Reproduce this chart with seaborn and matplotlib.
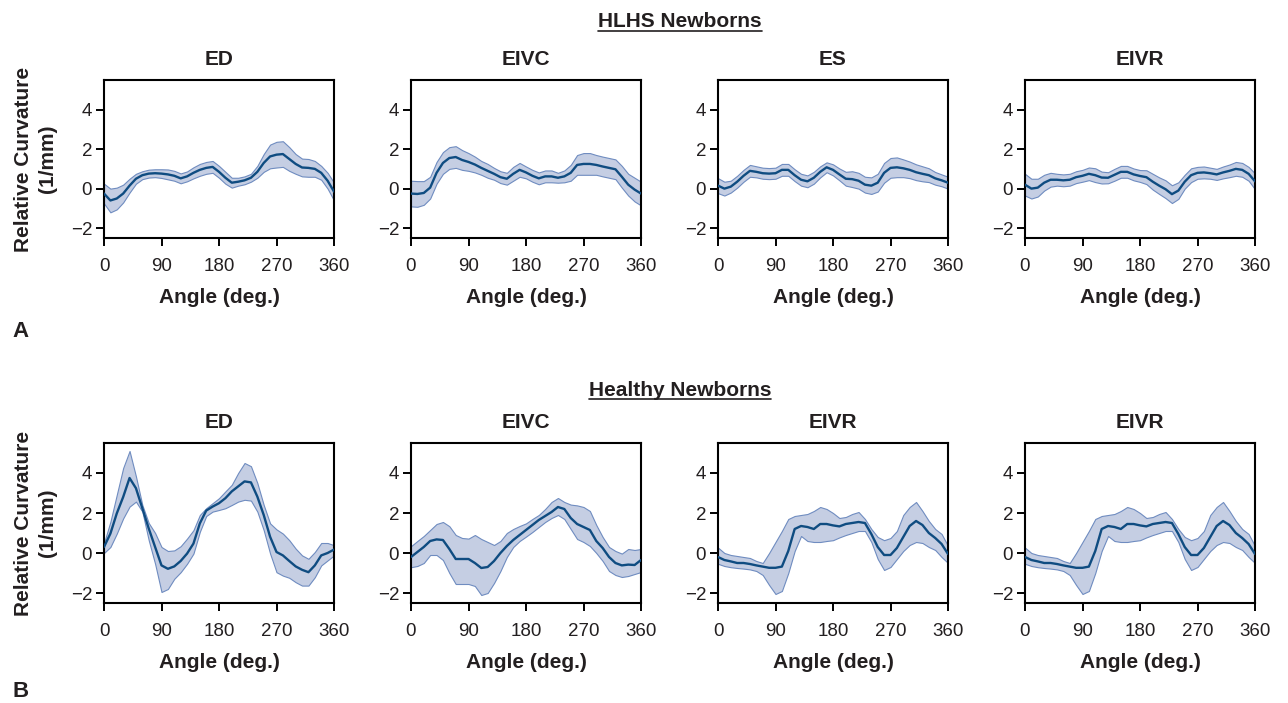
import numpy as np
import pandas as pd
import matplotlib
matplotlib.use("Agg")
import matplotlib.pyplot as plt
from matplotlib.lines import Line2D
import seaborn as sns

# ---------------- data ----------------
ANGLES = list(range(0, 361, 10))

# HLHS newborns: mean curve and half-width of the shaded band
A_ED_mean = [-0.25, -0.6, -0.5, -0.25, 0.15, 0.5, 0.68, 0.76, 0.78, 0.76, 0.72, 0.65, 0.52, 0.62, 0.8, 0.95, 1.05, 1.1, 0.85,
             0.55, 0.3, 0.35, 0.42, 0.55, 0.85, 1.3, 1.63, 1.72, 1.75, 1.5, 1.25, 1.07, 1.05, 1.0, 0.8, 0.4, -0.15]
A_ED_hw = [0.5, 0.6, 0.55, 0.45, 0.35, 0.25, 0.2, 0.2, 0.2, 0.22, 0.25, 0.25, 0.25, 0.25, 0.28, 0.3, 0.3, 0.3, 0.3,
           0.3, 0.25, 0.2, 0.2, 0.2, 0.3, 0.45, 0.6, 0.65, 0.65, 0.6, 0.5, 0.45, 0.45, 0.4, 0.35, 0.4, 0.45]

A_EIVC_mean = [-0.25, -0.27, -0.22, 0.05, 0.8, 1.3, 1.55, 1.6, 1.45, 1.35, 1.22, 1.05, 0.9, 0.75, 0.58, 0.5, 0.75, 0.95, 0.82,
               0.65, 0.52, 0.62, 0.62, 0.55, 0.62, 0.8, 1.2, 1.25, 1.25, 1.2, 1.12, 1.05, 0.98, 0.6, 0.2, -0.05, -0.25]
A_EIVC_hw = [0.65, 0.65, 0.6, 0.55, 0.55, 0.55, 0.55, 0.55, 0.5, 0.45, 0.4, 0.35, 0.35, 0.3, 0.3, 0.3, 0.35, 0.35, 0.3,
             0.3, 0.3, 0.3, 0.3, 0.25, 0.3, 0.4, 0.5, 0.55, 0.55, 0.5, 0.5, 0.5, 0.5, 0.55, 0.55, 0.6, 0.6]

A_ES_mean = [0.15, 0.0, 0.1, 0.35, 0.65, 0.9, 0.85, 0.78, 0.76, 0.78, 0.95, 0.95, 0.68, 0.45, 0.37, 0.55, 0.85, 1.08, 0.95,
             0.72, 0.5, 0.48, 0.4, 0.2, 0.15, 0.3, 0.8, 1.05, 1.08, 1.03, 0.95, 0.83, 0.75, 0.68, 0.52, 0.42, 0.3]
A_ES_hw = [0.38, 0.35, 0.3, 0.3, 0.3, 0.3, 0.28, 0.28, 0.28, 0.28, 0.3, 0.3, 0.3, 0.3, 0.3, 0.3, 0.28, 0.25, 0.28,
           0.3, 0.35, 0.4, 0.4, 0.4, 0.42, 0.45, 0.5, 0.5, 0.5, 0.45, 0.42, 0.4, 0.38, 0.35, 0.32, 0.3, 0.3]

A_EIVR_mean = [0.2, 0.0, 0.05, 0.3, 0.45, 0.45, 0.42, 0.45, 0.58, 0.65, 0.75, 0.68, 0.56, 0.55, 0.7, 0.85, 0.85, 0.72, 0.64,
               0.58, 0.35, 0.15, -0.03, -0.28, -0.1, 0.35, 0.68, 0.8, 0.82, 0.78, 0.72, 0.82, 0.9, 1.0, 0.95, 0.75, 0.37]
A_EIVR_hw = [0.55, 0.5, 0.45, 0.4, 0.35, 0.3, 0.3, 0.3, 0.3, 0.3, 0.32, 0.35, 0.3, 0.28, 0.3, 0.3, 0.3, 0.3, 0.3,
             0.35, 0.4, 0.42, 0.45, 0.45, 0.42, 0.35, 0.35, 0.3, 0.3, 0.28, 0.28, 0.3, 0.32, 0.35, 0.35, 0.35, 0.4]

# Healthy newborns: mean curve, lower and upper band edges
B_ED_mean = [0.3, 0.97, 1.98, 2.8, 3.75, 3.24, 2.24, 1.23, 0.3, -0.62, -0.79, -0.67, -0.4, -0.03, 0.47, 1.48, 2.12, 2.32, 2.49,
             2.74, 3.08, 3.33, 3.58, 3.53, 2.82, 1.9, 0.81, 0.05, -0.12, -0.4, -0.67, -0.84, -0.96, -0.62, -0.12, 0.0, 0.17]
B_ED_lo = [0.0, 0.3, 0.97, 1.73, 2.32, 2.57, 2.07, 0.64, -0.54, -1.95, -1.8, -1.29, -0.96, -0.54, -0.03, 1.06, 1.85, 2.07, 2.15,
           2.24, 2.4, 2.57, 2.66, 2.62, 2.07, 1.14, -0.03, -0.96, -1.13, -1.24, -1.46, -1.63, -1.63, -1.21, -0.62, -0.37, -0.12]
B_ED_hi = [0.5, 1.56, 2.91, 4.25, 5.1, 3.83, 2.4, 1.5, 1.0, 0.3, 0.1, 0.13, 0.34, 0.72, 1.14, 1.9, 2.24, 2.49, 2.74,
           3.08, 3.41, 4.0, 4.5, 4.34, 3.5, 2.4, 1.48, 1.18, 0.97, 0.64, 0.22, -0.12, -0.29, 0.05, 0.5, 0.5, 0.39]

B_EIVC_mean = [-0.2, 0.05, 0.3, 0.6, 0.68, 0.65, 0.2, -0.3, -0.3, -0.3, -0.5, -0.75, -0.7, -0.4, 0.0, 0.35, 0.65, 0.9, 1.15,
               1.4, 1.65, 1.85, 2.05, 2.3, 2.2, 1.75, 1.45, 1.3, 1.15, 0.6, 0.25, -0.2, -0.5, -0.62, -0.58, -0.6, -0.35]
B_EIVC_lo = [-0.71, -0.65, -0.5, -0.1, -0.1, -0.35, -1.0, -1.55, -1.55, -1.55, -1.65, -2.1, -2.0, -1.5, -0.9, -0.2, 0.3, 0.6, 0.82,
             1.05, 1.3, 1.55, 1.75, 1.9, 1.7, 1.2, 0.7, 0.55, 0.35, 0.0, -0.4, -0.9, -1.1, -1.2, -1.15, -1.05, -0.95]
B_EIVC_hi = [0.34, 0.6, 0.85, 1.15, 1.45, 1.55, 1.34, 0.9, 0.75, 0.72, 0.9, 0.7, 0.55, 0.4, 0.6, 1.0, 1.2, 1.35, 1.48,
             1.7, 1.9, 2.2, 2.55, 2.75, 2.55, 2.42, 2.38, 2.3, 2.1, 1.4, 0.8, 0.3, 0.1, -0.03, 0.2, 0.15, 0.2]

B_EIVR_mean = [-0.2, -0.35, -0.42, -0.5, -0.5, -0.55, -0.62, -0.68, -0.74, -0.74, -0.68, 0.1, 1.2, 1.35, 1.3, 1.2, 1.45, 1.45, 1.38,
               1.33, 1.45, 1.5, 1.55, 1.5, 0.95, 0.3, -0.1, -0.1, 0.25, 0.8, 1.35, 1.6, 1.4, 1.0, 0.75, 0.45, -0.05]
B_EIVR_lo = [-0.54, -0.65, -0.71, -0.75, -0.78, -0.82, -0.9, -1.1, -1.6, -2.05, -1.9, -1.0, 0.1, 0.85, 0.6, 0.55, 0.55, 0.6, 0.64,
             0.78, 0.9, 1.0, 1.1, 1.1, 0.55, -0.3, -0.85, -0.7, -0.3, 0.1, 0.4, 0.55, 0.5, 0.3, 0.15, -0.2, -0.5]
B_EIVR_hi = [0.27, 0.0, -0.1, -0.15, -0.2, -0.25, -0.4, -0.5, 0.0, 0.55, 1.1, 1.7, 1.85, 1.9, 1.95, 2.1, 2.3, 2.2, 2.0,
             1.75, 1.8, 1.95, 2.05, 1.7, 1.2, 0.8, 0.64, 0.75, 1.1, 1.9, 2.3, 2.55, 2.1, 1.6, 1.2, 0.95, 0.35]

TOP_TITLES = ["ED", "EIVC", "ES", "EIVR"]
BOTTOM_TITLES = ["ED", "EIVC", "EIVR", "EIVR"]
X_TICKS = [0, 90, 180, 270, 360]
Y_TICKS = [-2, 0, 2, 4]
ROW_TITLES = ["HLHS Newborns", "Healthy Newborns"]
PANEL_LETTERS = ["A", "B"]

# ---------------- style ----------------
sns.set_theme(style="ticks")
plt.rcParams["font.family"] = ["Liberation Sans", "DejaVu Sans"]
plt.rcParams["axes.unicode_minus"] = True

LINE_C = "#0f4c81"
FILL_C = "#c5cee3"
EDGE_C = "#6f8cc0"
TXT_C = "#231f20"

W, H = 1288, 703
fig = plt.figure(figsize=(W / 100, H / 100), dpi=100)
fig.patch.set_facecolor("white")

col_left = [104, 411, 718, 1025]
ax_w = 230
rows = [(80, 238), (443, 603)]

top_data = [(A_ED_mean, A_ED_hw), (A_EIVC_mean, A_EIVC_hw), (A_ES_mean, A_ES_hw), (A_EIVR_mean, A_EIVR_hw)]
bot_data = [(B_ED_mean, B_ED_lo, B_ED_hi), (B_EIVC_mean, B_EIVC_lo, B_EIVC_hi),
            (B_EIVR_mean, B_EIVR_lo, B_EIVR_hi), (B_EIVR_mean, B_EIVR_lo, B_EIVR_hi)]


def style_axis(ax, title, first):
    ax.set_xlim(0, 360)
    ax.set_ylim(-2.5, 5.5)
    ax.set_xticks(X_TICKS)
    ax.set_yticks(Y_TICKS)
    ax.set_xticklabels([str(t) for t in X_TICKS])
    ax.set_yticklabels(["\u22122" if t < 0 else str(t) for t in Y_TICKS])
    for s in ax.spines.values():
        s.set_visible(True)
        s.set_linewidth(1.5)
        s.set_color("black")
    ax.tick_params(axis="both", direction="out", length=5.5, width=1.4, color="black",
                   labelsize=13.5, labelcolor=TXT_C)
    ax.tick_params(axis="x", pad=9)
    ax.tick_params(axis="y", pad=3)
    ax.set_title(title, fontsize=15, fontweight="bold", pad=11, color=TXT_C)
    ax.set_xlabel("Angle (deg.)", fontsize=15, fontweight="bold", labelpad=9, color=TXT_C)
    if first:
        ax.set_ylabel("Relative Curvature\n(1/mm)", fontsize=15, fontweight="bold",
                      labelpad=10, color=TXT_C, linespacing=1.3)
    else:
        ax.set_ylabel("")
    ax.grid(False)


for r, (ytop, ybot) in enumerate(rows):
    for c in range(4):
        ax = fig.add_axes([col_left[c] / W, 1 - ybot / H, ax_w / W, (ybot - ytop) / H])
        if r == 0:
            mean, hw = top_data[c]
            lo = [m - h for m, h in zip(mean, hw)]
            hi = [m + h for m, h in zip(mean, hw)]
            title = TOP_TITLES[c]
        else:
            mean, lo, hi = bot_data[c]
            title = BOTTOM_TITLES[c]
        df = pd.DataFrame({"angle": ANGLES, "mean": mean, "lo": lo, "hi": hi})
        ax.fill_between(df["angle"], df["lo"], df["hi"], facecolor=FILL_C, edgecolor=EDGE_C,
                        linewidth=0.8, zorder=1)
        sns.lineplot(data=df, x="angle", y="mean", ax=ax, color=LINE_C, linewidth=1.7, zorder=3)
        style_axis(ax, title, c == 0)

# row titles with underline
row_title_base = [27, 396]
texts = []
for t, yb in zip(ROW_TITLES, row_title_base):
    txt = fig.text(680 / W, 1 - yb / H, t, ha="center", va="baseline", fontsize=15,
                   fontweight="bold", color=TXT_C)
    texts.append(txt)

# panel letters
fig.text(12 / W, 1 - 337 / H, PANEL_LETTERS[0], ha="left", va="baseline", fontsize=16,
         fontweight="bold", color=TXT_C)
fig.text(12 / W, 1 - 697 / H, PANEL_LETTERS[1], ha="left", va="baseline", fontsize=16,
         fontweight="bold", color=TXT_C)

fig.canvas.draw()
renderer = fig.canvas.get_renderer()
for txt, yb in zip(texts, row_title_base):
    bb = txt.get_window_extent(renderer)
    yline = 1 - (yb + 3.5) / H
    fig.add_artist(Line2D([bb.x0 / W, bb.x1 / W], [yline, yline], transform=fig.transFigure,
                          color=TXT_C, linewidth=1.2))

fig.savefig("out.png", dpi=100)
